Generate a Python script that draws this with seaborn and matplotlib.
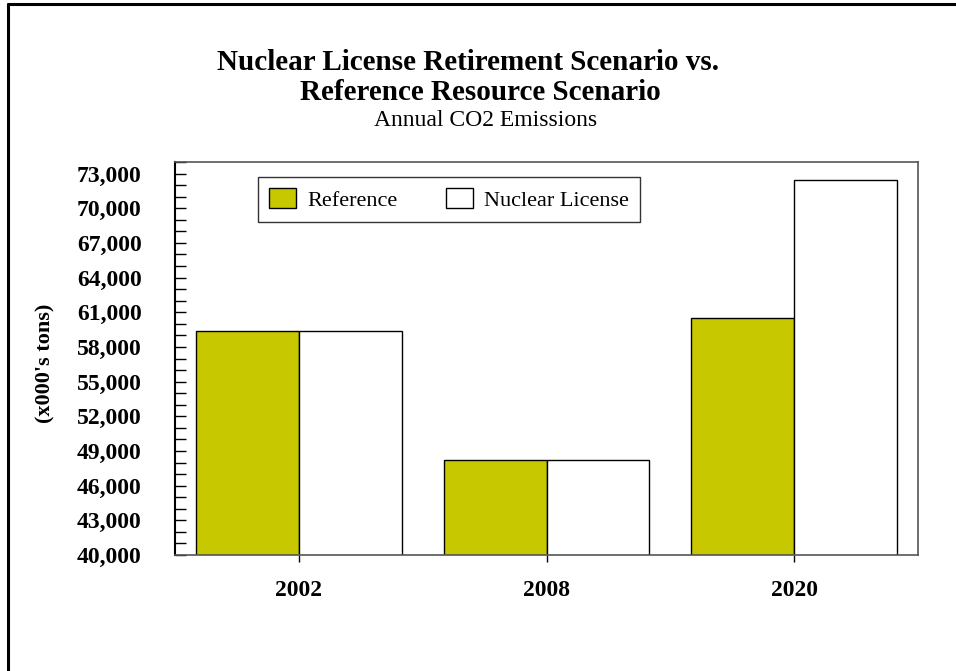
import numpy as np
import pandas as pd
import seaborn as sns
import matplotlib.pyplot as plt
from matplotlib.lines import Line2D
from matplotlib.ticker import FixedLocator, MultipleLocator, FuncFormatter

# chart data
years = ["2002", "2008", "2020"]
scenarios = ["Reference", "Nuclear License"]
reference_vals = [59400, 48200, 60500]
nuclear_vals = [59400, 48200, 72400]
y_ticks = [40000, 43000, 46000, 49000, 52000, 55000, 58000, 61000, 64000, 67000, 70000, 73000]

df = pd.DataFrame({
    "year": years * 2,
    "scenario": [scenarios[0]] * 3 + [scenarios[1]] * 3,
    "tons": reference_vals + nuclear_vals,
})

sns.set_theme(style="white")
plt.rcParams["font.family"] = ["Liberation Serif", "DejaVu Serif"]
plt.rcParams["text.color"] = "black"
plt.rcParams["xtick.color"] = "black"
plt.rcParams["ytick.color"] = "black"

fig = plt.figure(figsize=(9.56, 6.71), dpi=100)
ax = fig.add_axes([175 / 956, 1 - 555 / 671, (918 - 175) / 956, (555 - 162) / 671])

sns.barplot(data=df, x="year", y="tons", hue="scenario", order=years,
            hue_order=scenarios, palette=["#c8c800", "white"], saturation=1,
            edgecolor="black", linewidth=1.0, width=0.83, ax=ax,
            legend=True)

ax.set_xlim(-0.5, 2.5)
ax.set_ylim(40000, 74000)
ax.yaxis.set_major_locator(FixedLocator(y_ticks))
ax.yaxis.set_minor_locator(MultipleLocator(1000))
ax.yaxis.set_major_formatter(FuncFormatter(lambda v, p: f"{int(v):,}"))
ax.tick_params(axis="y", which="both", direction="in", length=8, width=1,
               color="black", left=True, pad=24, labelsize=17)
ax.tick_params(axis="x", direction="out", length=5, width=1, color="black",
               bottom=True, pad=13, labelsize=17)
for lbl in ax.get_xticklabels() + ax.get_yticklabels():
    lbl.set_fontweight("bold")
    lbl.set_color("black")
ax.set_xlabel("")
ax.set_ylabel("")

for side in ["top", "right", "bottom"]:
    ax.spines[side].set_color("#555555")
    ax.spines[side].set_linewidth(1.2)
ax.spines["left"].set_color("black")
ax.spines["left"].set_linewidth(1.5)

leg = ax.legend(loc="upper left", bbox_to_anchor=((258 - 175) / 743, 1 - (177 - 162) / 393),
                ncol=2, fontsize=16, frameon=True, fancybox=False,
                handlelength=1.2, handleheight=1.0, handletextpad=0.5,
                columnspacing=2.2, borderpad=0.5, borderaxespad=0)
leg.get_frame().set_edgecolor("black")
leg.get_frame().set_linewidth(1.0)

# titles
fig.text(468 / 956, 1 - 62 / 671, "Nuclear License Retirement Scenario vs.",
         ha="center", va="center", fontsize=21, fontweight="bold")
fig.text(480 / 956, 1 - 92 / 671, "Reference Resource Scenario",
         ha="center", va="center", fontsize=21, fontweight="bold")
fig.text(486 / 956, 1 - 120 / 671, "Annual CO2 Emissions",
         ha="center", va="center", fontsize=17)
fig.text(45 / 956, 1 - 363 / 671, "(x000's tons)", rotation=90,
         ha="center", va="center", fontsize=16, fontweight="bold")

# outer frame (top and left edges)
fig.add_artist(Line2D([8 / 956, 8 / 956], [0, 1 - 3.5 / 671], color="black", lw=2.2))
fig.add_artist(Line2D([8 / 956, 1], [1 - 3.5 / 671, 1 - 3.5 / 671], color="black", lw=2.2))

fig.savefig("out.png", dpi=100)
